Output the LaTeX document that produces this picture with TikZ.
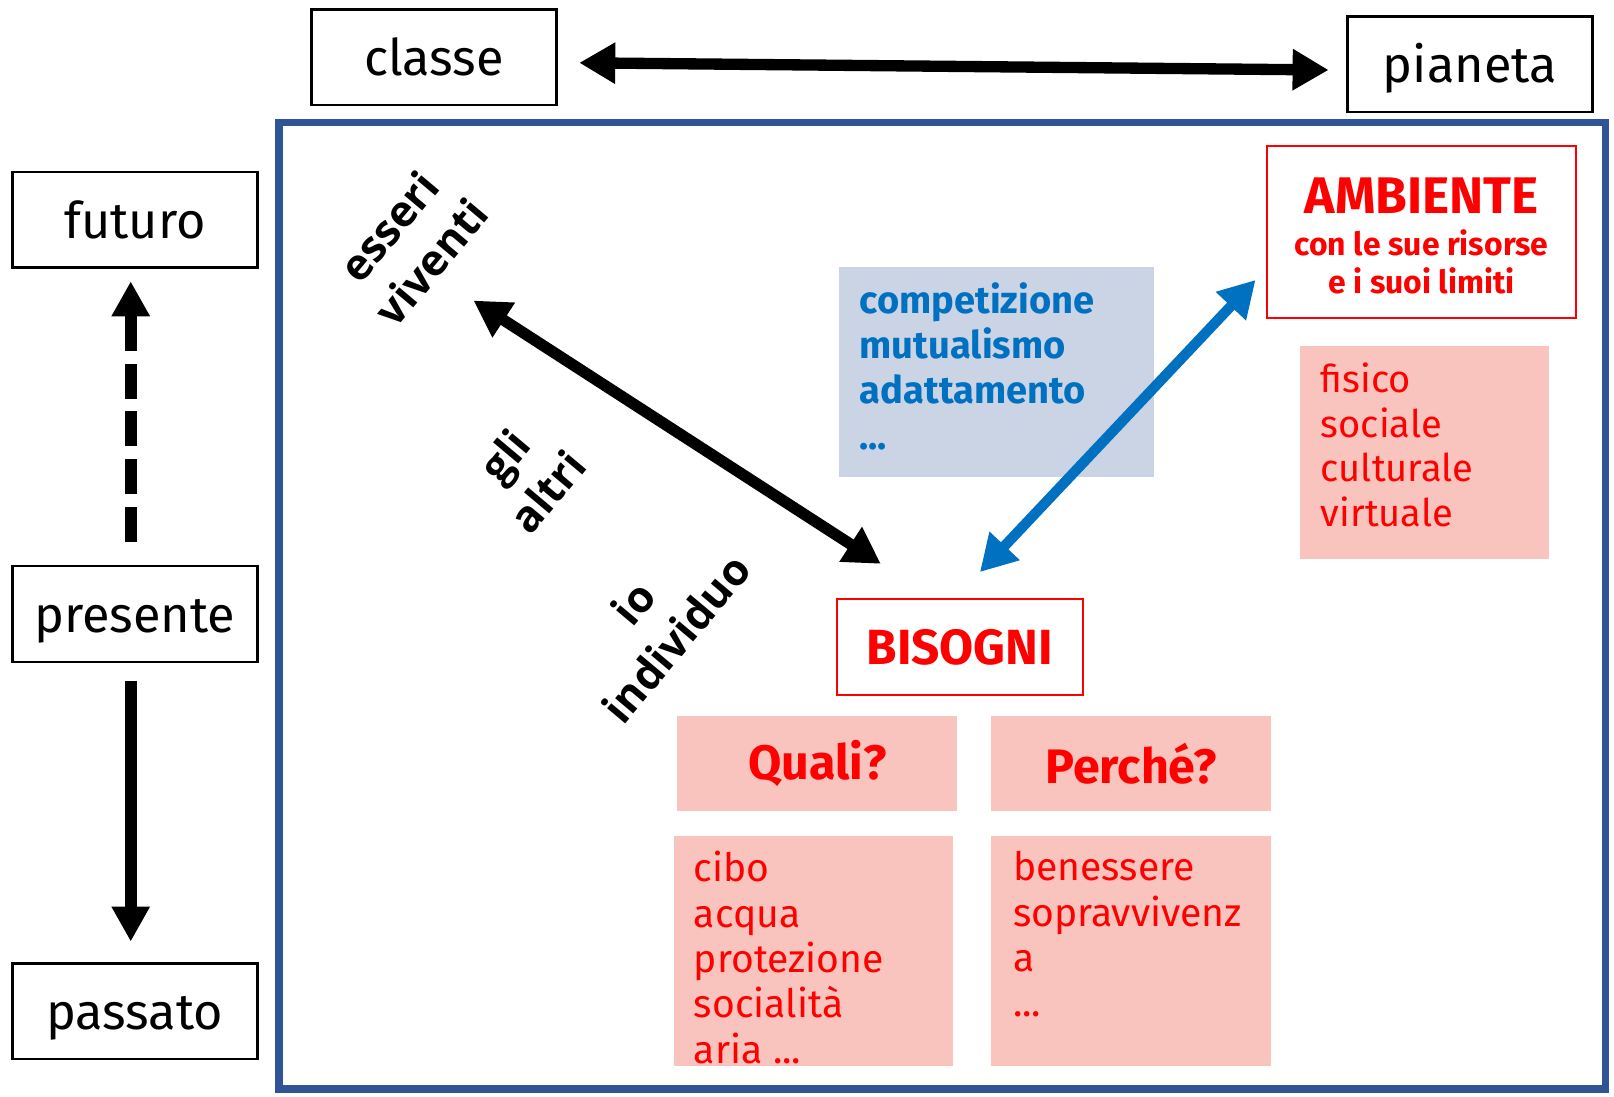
\documentclass[tikz,border=0pt]{standalone}
\usepackage{fontspec}
\setmainfont{Fira Sans}
\newfontfamily\tiltfont{Open Sans}
\usetikzlibrary{arrows.meta,calc}
\definecolor{frameblue}{HTML}{2F5597}
\definecolor{linkblue}{HTML}{0070C0}
\definecolor{rosefill}{HTML}{F9C4BD}
\definecolor{mistfill}{HTML}{CAD4E5}
\definecolor{alertred}{HTML}{FF0000}
\newcommand{\headline}{\fontsize{50}{38}\selectfont}
\begin{document}
\begin{tikzpicture}[x=1pt,y=-1pt,
  labelbox/.style={draw=black, line width=2.5pt, minimum width=238pt, minimum height=93pt,
    inner sep=0pt, text height=40pt, text depth=4pt, font=\fontsize{49}{58}\selectfont},
  redbox/.style={draw=alertred, line width=2.5pt, fill=white, text=alertred, inner sep=0pt,
    align=center, font=\bfseries\fontsize{48}{52}\selectfont},
  rosebox/.style={fill=rosefill, inner sep=0pt},
  rosehead/.style={rosebox, text=alertred, font=\bfseries\fontsize{47}{52}\selectfont},
  rosetext/.style={anchor=north west, inner sep=0pt, align=left, text=alertred,
    font=\fontsize{38}{44}\selectfont},
  bluetext/.style={anchor=north west, inner sep=0pt, align=left, text=linkblue,
    font=\bfseries\fontsize{37}{44}\selectfont},
  tiltlabel/.style={rotate=50, align=center, inner sep=0pt,
    font=\tiltfont\bfseries\fontsize{42}{54}\selectfont},
  twohead/.style={line width=11pt,
    {Triangle[length=35pt,width=38pt]}-{Triangle[length=35pt,width=38pt]}},
  onehead/.style={line width=11.3pt, -{Triangle[length=34pt,width=35pt]}},
]
\useasboundingbox (0,0) rectangle (1568,1065);

% outer frame around the needs map
\node[draw=frameblue, line width=7pt, minimum width=1289pt, minimum height=939pt,
  inner sep=0pt] (frame) at (915.5,588.5) {};

% scale and time boxes
\node[labelbox] (classe)   at (421.5,55.5) {classe};
\node[labelbox] (pianeta)  at (1428,62.5)  {pianeta};
\node[labelbox] (futuro)   at (131,213.5)  {futuro};
\node[labelbox] (presente) at (131,596.5)  {presente};
\node[labelbox] (passato)  at (131,982.5)  {passato};

% environment
\node[redbox, font=\bfseries\fontsize{31}{37}\selectfont,
  minimum width=300pt, minimum height=167pt] (ambiente) at (1381,225.5) {};
\node[text=alertred, align=center, inner sep=0pt, font=\bfseries\fontsize{31}{37}\selectfont]
  (ambtxt) at ($(ambiente.center)+(0,4)$)
  {\headline AMBIENTE\\[4pt]con le sue risorse\\e i suoi limiti};
\node[rosebox, minimum width=242pt, minimum height=207pt] (tipi) at (1384,439.5) {};
\node[rosetext, font=\fontsize{37}{43.5}\selectfont] (tipitxt) at (1283,352)
  {fisico\\sociale\\culturale\\virtuale};

% relations between living beings
\node[fill=mistfill, inner sep=0pt, minimum width=306pt, minimum height=204pt] (rel) at (968,361) {};
\node[bluetext] (reltxt) at (835,274) {competizione\\mutualismo\\adattamento\\...};

% needs
\node[redbox, minimum width=239pt, minimum height=93pt] (bisogni) at (932.5,628.5) {BISOGNI};
\node[rosehead, minimum width=272pt, minimum height=92pt] (quali)  at (794,742)  {Quali?};
\node[rosehead, minimum width=272pt, minimum height=92pt] (perche) at (1099,742) {Perché?};
\node[rosebox, minimum width=271pt, minimum height=224pt] (qualibox)  at (790.5,924) {};
\node[rosebox, minimum width=272pt, minimum height=224pt] (perchebox) at (1099,924) {};
\node[rosetext] (qualitxt)  at (674,827) {cibo\\acqua\\protezione\\socialità\\aria ...};
\node[rosetext] (perchetxt) at (984,827) {benessere\\sopravvivenz\\a\\...};

% slanted scale labels
\node[tiltlabel] (viventi) at (398,237) {esseri\\viventi};
\node[tiltlabel] (altri)   at (511,460) {gli\\altri};
\node[tiltlabel] (io)      at (636,603) {io\\individuo};

% connectors
\draw[twohead] ($(classe.east)+(21,5.5)$) -- ($(pianeta.west)+(-17,5.5)$);
\draw[twohead] ($(viventi.center)+(62,55)$) -- ($(bisogni.north west)+(44,-33)$);
\draw[twohead, draw=linkblue, fill=linkblue, line width=10pt]
  ($(ambiente.west)+(-10,46.5)$) -- ($(bisogni.north)+(19.5,-25)$);
\draw[onehead, dash pattern=on 34pt off 12.5pt] ($(presente.north)+(-4,-22)$) -- ($(futuro.south)+(-4,12)$);
\draw[onehead] ($(presente.south)+(-4,17)$) -- ($(passato.north)+(-4,-20)$);
\end{tikzpicture}
\end{document}
